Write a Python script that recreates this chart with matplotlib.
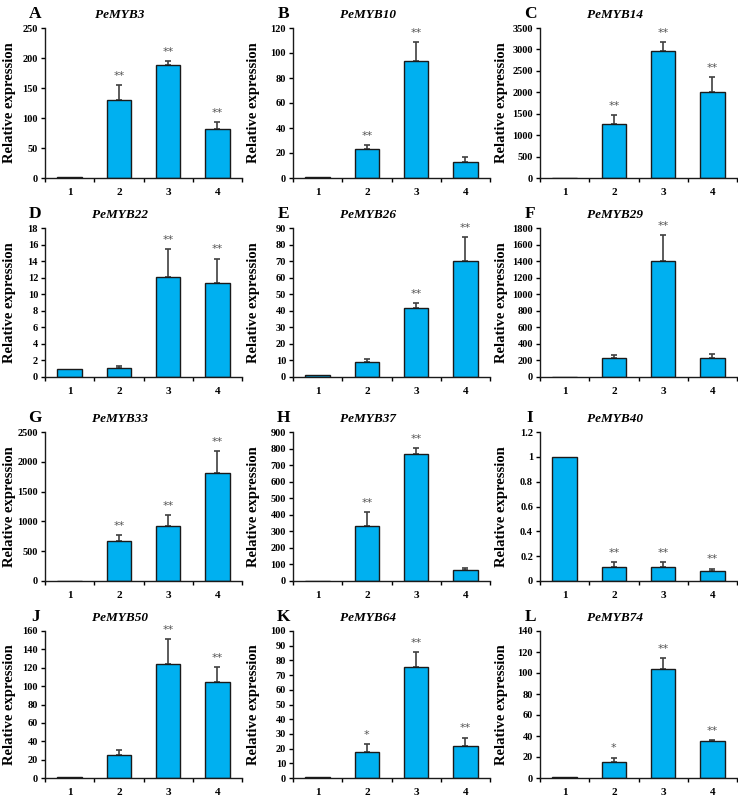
import numpy as np
import matplotlib
matplotlib.use("Agg")
import matplotlib.pyplot as plt
from matplotlib.ticker import MultipleLocator, FuncFormatter

plt.rcParams["font.family"] = ["Liberation Serif", "DejaVu Serif"]

W, H = 738, 797

# =========================
# data
# =========================
letters = ["A", "B", "C", "D", "E", "F", "G", "H", "I", "J", "K", "L"]
genes = ["PeMYB3", "PeMYB10", "PeMYB14", "PeMYB22", "PeMYB26", "PeMYB29",
         "PeMYB33", "PeMYB37", "PeMYB40", "PeMYB50", "PeMYB64", "PeMYB74"]
groups = ["1", "2", "3", "4"]

means = [
    [1, 130, 189, 81],
    [1, 23.5, 94, 13],
    [1, 1260, 2970, 2000],
    [1, 1.05, 12.1, 11.3],
    [1, 9, 41.5, 70],
    [1, 235, 1405, 230],
    [1, 675, 930, 1810],
    [1, 330, 768, 68],
    [1, 0.11, 0.115, 0.08],
    [1, 24.5, 124.5, 105],
    [1, 18, 75.5, 21.5],
    [1, 15, 104, 35],
]
errors = [
    [0, 25, 6, 12],
    [0, 3, 15, 4],
    [0, 200, 200, 350],
    [0, 0.25, 3.4, 3.0],
    [0, 2, 3, 14.5],
    [0, 30, 310, 50],
    [0, 90, 170, 370],
    [0, 85, 35, 12],
    [0, 0.045, 0.04, 0.02],
    [0, 6.5, 27, 16],
    [0, 5, 10, 6],
    [0, 4.5, 10.5, 1],
]
stars = [
    ["", "**", "**", "**"],
    ["", "**", "**", ""],
    ["", "**", "**", "**"],
    ["", "", "**", "**"],
    ["", "", "**", "**"],
    ["", "", "**", ""],
    ["", "**", "**", "**"],
    ["", "**", "**", ""],
    ["", "**", "**", "**"],
    ["", "", "**", "**"],
    ["", "*", "**", "**"],
    ["", "*", "**", "**"],
]
y_max = [250, 120, 3500, 18, 90, 1800, 2500, 900, 1.2, 160, 100, 140]
y_step = [50, 20, 500, 2, 10, 200, 500, 100, 0.2, 20, 10, 20]

# panel placement in pixels
col_left = [45, 293, 540]
label_gap = [35, 39, 38]   # ylabel centre, px left of the y axis
ax_w = 197
row_top = [28, 228, 432, 631]
row_bot = [178, 377, 581, 778]

BAR = "#00B0F0"

fig = plt.figure(figsize=(W / 100, H / 100), dpi=100)

for i in range(12):
    r, c = divmod(i, 3)
    left, top, bottom = col_left[c], row_top[r], row_bot[r]
    ax = fig.add_axes([left / W, 1 - bottom / H, ax_w / W, (bottom - top) / H])

    x = np.arange(1, 5)
    m = np.array(means[i], dtype=float)
    e = np.array(errors[i], dtype=float)

    ax.bar(x, m, width=0.5, color=BAR, edgecolor="#1a1a1a", linewidth=1.0, zorder=2)
    has_err = e > 0
    ax.errorbar(x[has_err], m[has_err], yerr=[np.zeros(has_err.sum()), e[has_err]],
                fmt="none", ecolor="#404040", elinewidth=1.2, capsize=2.5,
                capthick=1.2, zorder=1)

    for xi, mi, ei, s in zip(x, m, e, stars[i]):
        if s:
            ax.annotate(s, (xi, mi + ei), xytext=(0, 3), textcoords="offset points",
                        ha="center", va="bottom", fontsize=8, color="#555555",
                        family="DejaVu Sans")

    ax.set_xlim(0.5, 4.5)
    ax.set_ylim(0, y_max[i])
    ax.yaxis.set_major_locator(MultipleLocator(y_step[i]))
    ax.yaxis.set_major_formatter(FuncFormatter(lambda v, p: f"{v:g}"))
    ax.set_xticks(x)
    ax.set_xticklabels(groups)
    ax.set_xticks([0.5, 1.5, 2.5, 3.5, 4.5], minor=True)
    ax.tick_params(axis="x", which="major", length=0, pad=7, labelsize=8)
    ax.tick_params(axis="x", which="minor", length=3, width=1, direction="out")
    ax.tick_params(axis="y", length=3, width=1, labelsize=7.5, pad=2)
    for lab in ax.get_xticklabels() + ax.get_yticklabels():
        lab.set_fontweight("bold")

    for side in ("top", "right"):
        ax.spines[side].set_visible(False)
    for side in ("left", "bottom"):
        ax.spines[side].set_linewidth(1.0)
        ax.spines[side].set_color("#1a1a1a")

    ax.set_ylabel("Relative expression", fontsize=10.5, fontweight="bold")
    ax.yaxis.set_label_coords(-label_gap[c] / ax_w, 0.5)
    ax.yaxis.label.set_verticalalignment("center")

    lift = 1.0 + 10 / (bottom - top)
    ax.text(0.38, lift, genes[i], transform=ax.transAxes, ha="center", va="baseline",
            fontsize=9.5, fontweight="bold", fontstyle="italic")
    ax.text(-0.05, lift, letters[i], transform=ax.transAxes, ha="center", va="baseline",
            fontsize=12.5, fontweight="bold")

fig.savefig("out.png", dpi=100)
